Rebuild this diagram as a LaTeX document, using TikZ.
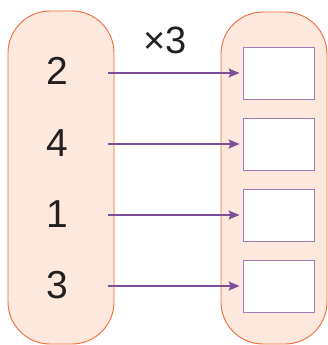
\documentclass[tikz,border=0pt]{standalone}
\usepackage{fontspec}
\setmainfont{Liberation Sans}
\usetikzlibrary{arrows.meta}
\definecolor{capfill}{HTML}{FCE8DD}
\definecolor{capdraw}{HTML}{F26A3A}
\definecolor{arr}{HTML}{7E4F97}
\definecolor{boxc}{HTML}{9F7DB6}
\definecolor{txt}{HTML}{231F20}
\tikzset{
  capsule/.style={draw=capdraw, fill=capfill, line width=0.9pt, rounded corners=42pt},
  ansbox/.style={draw=boxc, fill=white, line width=0.9pt, minimum width=71pt, minimum height=52pt, inner sep=0pt},
  num/.style={text=txt, font=\fontsize{39}{39}\selectfont, inner sep=0pt},
  link/.style={draw=arr, line width=1.3pt, -{Stealth[length=11pt,width=9pt,inset=2pt]}}
}
\begin{document}
\begin{tikzpicture}[x=1pt,y=-1pt]
\useasboundingbox (0,0) rectangle (328,345);
\draw[capsule] (8,11) rectangle (114,344);
\draw[capsule] (221,12) rectangle (327,344);
\node[num] (n1) at (57,71) {2};
\node[num] (n2) at (57,143) {4};
\node[num] (n3) at (57,214) {1};
\node[num] (n4) at (57,285) {3};
\node[num, font=\fontsize{38}{38}\selectfont] (x3) at (165,40) {×3};
\node[ansbox] (b1) at (278.5,73) {};
\node[ansbox] (b2) at (278.5,144) {};
\node[ansbox] (b3) at (278.5,215.5) {};
\node[ansbox] (b4) at (278.5,286) {};
\coordinate (s1) at (108,73);
\coordinate (s2) at (108,144);
\coordinate (s3) at (108,215);
\coordinate (s4) at (108,286);
\draw[link] (s1) -- ([xshift=-3pt]b1.west |- s1);
\draw[link] (s2) -- ([xshift=-3pt]b2.west |- s2);
\draw[link] (s3) -- ([xshift=-3pt]b3.west |- s3);
\draw[link] (s4) -- ([xshift=-3pt]b4.west |- s4);
\end{tikzpicture}
\end{document}
